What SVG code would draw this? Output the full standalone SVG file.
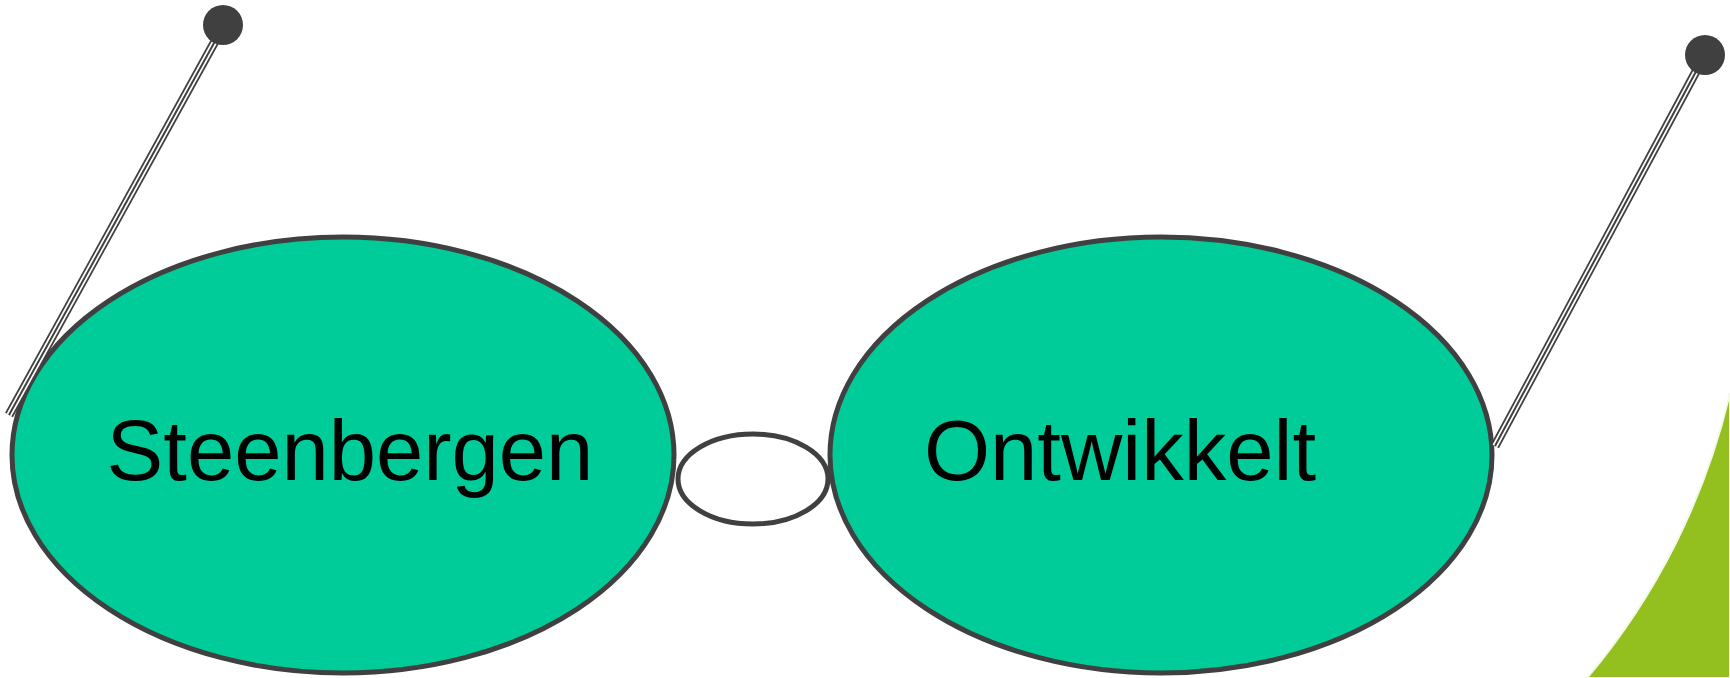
<svg xmlns="http://www.w3.org/2000/svg" width="1730" height="678" viewBox="0 0 1730 678">
<style>
.node{fill:#00CC99;stroke:#404040;stroke-width:5}
.link{fill:#FFFFFF;stroke:#404040;stroke-width:5}
.lbl{font-family:"Liberation Sans",Arial,sans-serif;font-size:85px;fill:#000000;text-anchor:middle}
.wire-o{stroke:#404040;stroke-width:9;fill:none}
.wire-i{stroke:#FFFFFF;stroke-width:5.5;fill:none}
.wire-c{stroke:#404040;stroke-width:2;fill:none}
.ball{fill:#404040}
</style>
<rect width="1730" height="678" fill="#FFFFFF"/>
<path d="M1730 393 A681 681 0 0 1 1587 678 L1730 678 Z" fill="#93C01F" stroke="#F4F8E6" stroke-width="2"/>
<g id="node-steenbergen">
<ellipse class="node" cx="343" cy="455" rx="331" ry="218"/>
<text class="lbl" x="350" y="480">Steenbergen</text>
</g>
<g id="node-link">
<ellipse class="link" cx="753" cy="479" rx="75" ry="45"/>
</g>
<g id="node-ontwikkelt">
<ellipse class="node" cx="1161" cy="455" rx="331" ry="218"/>
<text class="lbl" x="1120" y="480">Ontwikkelt</text>
</g>
<g id="connectors">
<g id="antenna-left">
<line class="wire-o" x1="9" y1="415" x2="219" y2="34"/>
<line class="wire-i" x1="9" y1="415" x2="219" y2="34"/>
<line class="wire-c" x1="9" y1="415" x2="219" y2="34"/>
<circle class="ball" cx="223" cy="25" r="20"/>
</g>
<g id="antenna-right">
<line class="wire-o" x1="1495" y1="446" x2="1700" y2="64"/>
<line class="wire-i" x1="1495" y1="446" x2="1700" y2="64"/>
<line class="wire-c" x1="1495" y1="446" x2="1700" y2="64"/>
<circle class="ball" cx="1705" cy="55" r="20"/>
</g>
</g>
</svg>
